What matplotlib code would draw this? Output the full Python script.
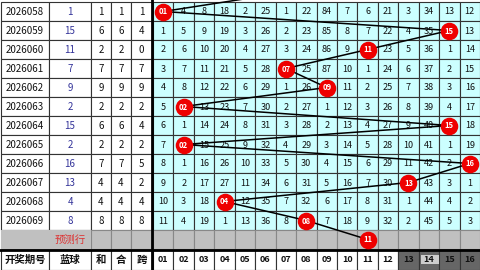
import numpy as np
import matplotlib.pyplot as plt
from matplotlib.patches import Rectangle

plt.rcParams['font.family'] = ['Noto Sans CJK SC', 'DejaVu Sans']

periods = ['2026058','2026059','2026060','2026061','2026062','2026063',
           '2026064','2026065','2026066','2026067','2026068','2026069']
blue = [1, 15, 11, 7, 9, 2, 15, 2, 16, 13, 4, 8]
he = [1, 6, 2, 7, 9, 2, 6, 2, 7, 4, 4, 8]
hez = [1, 6, 2, 7, 9, 2, 6, 2, 7, 4, 4, 8]
kua = [1, 4, 0, 7, 9, 2, 4, 2, 5, 2, 4, 8]
prev_blue = 7      # ball of the row above the visible part
pred_blue = 11     # ball drawn in the forecast row
headers = ['开奖期号', '蓝球', '和', '合', '跨']
col_labels = ['%02d' % i for i in range(1, 17)]

# omission counts per row, column 01..16 (ball cell holds the ball number)
miss = [
    [1, 4, 8, 18, 2, 25, 1, 22, 84, 7, 6, 21, 3, 34, 13, 12],
    [1, 5, 9, 19, 3, 26, 2, 23, 85, 8, 7, 22, 4, 35, 15, 13],
    [2, 6, 10, 20, 4, 27, 3, 24, 86, 9, 11, 23, 5, 36, 1, 14],
    [3, 7, 11, 21, 5, 28, 7, 25, 87, 10, 1, 24, 6, 37, 2, 15],
    [4, 8, 12, 22, 6, 29, 1, 26, 9, 11, 2, 25, 7, 38, 3, 16],
    [5, 2, 13, 23, 7, 30, 2, 27, 1, 12, 3, 26, 8, 39, 4, 17],
    [6, 1, 14, 24, 8, 31, 3, 28, 2, 13, 4, 27, 9, 40, 15, 18],
    [7, 2, 15, 25, 9, 32, 4, 29, 3, 14, 5, 28, 10, 41, 1, 19],
    [8, 1, 16, 26, 10, 33, 5, 30, 4, 15, 6, 29, 11, 42, 2, 16],
    [9, 2, 17, 27, 11, 34, 6, 31, 5, 16, 7, 30, 13, 43, 3, 1],
    [10, 3, 18, 4, 12, 35, 7, 32, 6, 17, 8, 31, 1, 44, 4, 2],
    [11, 4, 19, 1, 13, 36, 8, 8, 7, 18, 9, 32, 2, 45, 5, 3],
]

# layout (pixels)
left_edges = [1, 49, 91, 111, 131, 152]
gx0, gx1 = 153, 480
cw = (gx1 - gx0) / 16
y0, rh = 2, 19
nrow = len(periods)

fig = plt.figure(figsize=(4.8, 2.7), dpi=100)
ax = fig.add_axes([0, 0, 1, 1])
ax.set_xlim(0, 480)
ax.set_ylim(270, 0)
ax.axis('off')
fig.patch.set_facecolor('white')

def colx(c):
    return gx0 + (c - 0.5) * cw

def rowy(r):
    return y0 + (r + 0.5) * rh

lc = '#333333'
# data rows
for r in range(nrow):
    top = y0 + r * rh
    for j in range(5):
        ax.add_patch(Rectangle((left_edges[j], top), left_edges[j + 1] - left_edges[j], rh,
                               facecolor='white', edgecolor=lc, lw=0.8))
    vals = [periods[r], blue[r], he[r], hez[r], kua[r]]
    for j, v in enumerate(vals):
        ax.text((left_edges[j] + left_edges[j + 1]) / 2, rowy(r) + 0.5, str(v),
                ha='center', va='center', fontsize=7,
                color='#333399' if j == 1 else '#111111')
    for c in range(16):
        ax.add_patch(Rectangle((gx0 + c * cw, top), cw, rh,
                               facecolor='#ccffff', edgecolor=lc, lw=0.8))
        if c + 1 != blue[r]:
            ax.text(colx(c + 1), rowy(r) + 0.5, str(miss[r][c]), ha='center', va='center',
                    fontsize=6.5, color='#111111')

# forecast row
top = y0 + nrow * rh
for j in range(5):
    ax.add_patch(Rectangle((left_edges[j], top), left_edges[j + 1] - left_edges[j], rh,
                           facecolor='#c0c0c0', edgecolor='#888888', lw=0.8))
for c in range(16):
    ax.add_patch(Rectangle((gx0 + c * cw, top), cw, rh,
                           facecolor='#c0c0c0', edgecolor='#888888', lw=0.8))
ax.add_patch(Rectangle((left_edges[0], top), left_edges[2] - left_edges[0], rh,
                       facecolor='#c0c0c0', edgecolor='none'))
ax.text((left_edges[1] + left_edges[2]) / 2, rowy(nrow) + 0.5, '预测行', ha='center',
        va='center', fontsize=7.5, color='#dd3333')

# header row
htop = y0 + (nrow + 1) * rh + 1
hh = 270 - htop
for j in range(5):
    ax.add_patch(Rectangle((left_edges[j], htop), left_edges[j + 1] - left_edges[j], hh,
                           facecolor='white', edgecolor=lc, lw=0.8))
    ax.text((left_edges[j] + left_edges[j + 1]) / 2, htop + hh / 2, headers[j],
            ha='center', va='center', fontsize=7.5, fontweight='bold', color='#111111')
for c in range(16):
    fc = '#666666' if c >= 12 else 'white'
    ax.add_patch(Rectangle((gx0 + c * cw, htop), cw, hh, facecolor=fc, edgecolor=lc, lw=0.8))
    ax.text(colx(c + 1), htop + hh / 2, col_labels[c], ha='center', va='center',
            fontsize=6.5, fontweight='bold', color='#111111')
ax.add_patch(Rectangle((gx0 + 13.1 * cw, htop + 5), cw * 0.9, 9, facecolor='#e8e8e8',
                       edgecolor='none', alpha=0.8))

# thick separators
ax.plot([152, 152], [0, 270], color='black', lw=2)
ax.plot([0, 480], [htop, htop], color='black', lw=2)

# trend line + balls
ys = [rowy(-1)] + [rowy(r) for r in range(nrow + 1)]
xs = [colx(prev_blue)] + [colx(b) for b in blue] + [colx(pred_blue)]
ax.plot(xs, ys, color='black', lw=1.1, zorder=5, solid_capstyle='butt')
balls = blue + [pred_blue]
bx = [colx(b) for b in balls]
by = [rowy(r) for r in range(nrow + 1)]
ax.scatter(bx, by, s=160, color='#ee0000', zorder=6, linewidths=0)
for x, y, b in zip(bx, by, balls):
    ax.text(x, y + 0.5, '%02d' % b, ha='center', va='center', fontsize=5.5,
            fontweight='bold', color='white', zorder=7)

fig.savefig('out.png', dpi=100)
